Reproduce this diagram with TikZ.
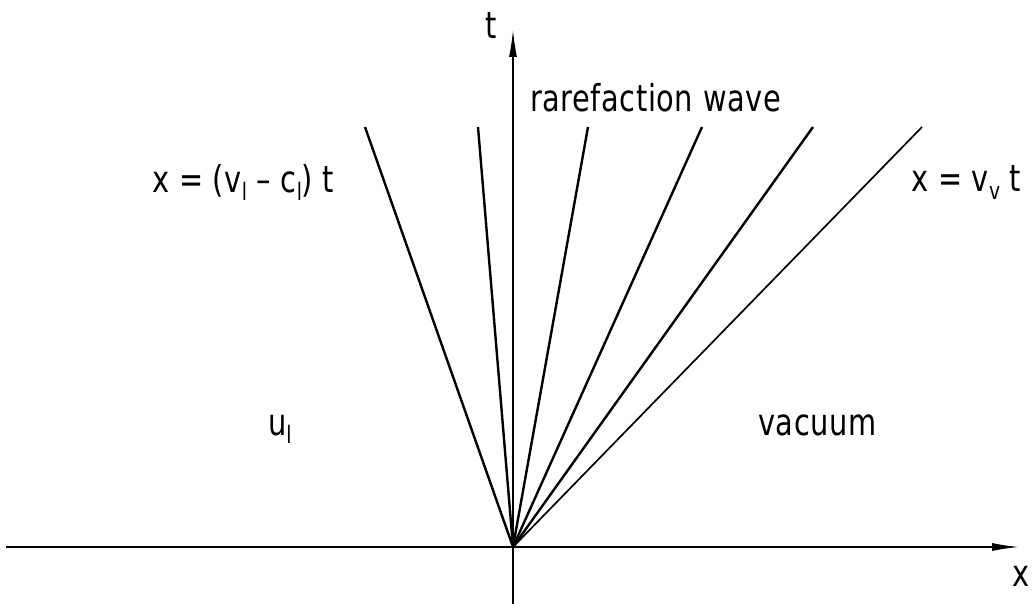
\documentclass[tikz,border=0pt]{standalone}
\usepackage{fontspec}
\setmainfont{DejaVu Sans}[FakeStretch=0.78,LetterSpace=1.5]
\usetikzlibrary{arrows.meta}
\newcommand\sbs[1]{\raisebox{-8pt}{\fontsize{24}{24}\selectfont #1}}
\tikzset{
  axisline/.style={line width=1.3pt,-{Latex[length=27pt,width=8pt]}},
  ray/.style={line width=2.4pt},
  lbl/.style={font=\fontsize{37}{40}\selectfont, inner sep=0pt}
}
\begin{document}
\begin{tikzpicture}[x=1pt,y=-1pt]
\useasboundingbox (0,0) rectangle (1033,604);
\coordinate (o) at (513,547);
\coordinate (xs) at (6,547);
\coordinate (xe) at (1019,547);
\coordinate (tb) at (513,604);
\coordinate (te) at (513,30);
\coordinate (r1) at (365,127);
\coordinate (r2) at (478,127);
\coordinate (r3) at (588,127);
\coordinate (r4) at (702,127);
\coordinate (r5) at (813,127);
\coordinate (r6) at (922,127);
\draw[axisline] (xs) -- (xe);
\draw[axisline] (tb) -- (te);
\foreach \r in {r1,r2,r3,r4,r5} \draw[ray] (o) -- (\r);
\draw[line width=1.7pt] (o) -- (r6);
\node[lbl,anchor=base] (tl) at (491,39) {t};
\node[lbl,anchor=base] (xl) at (1021,586) {x};
\node[lbl,anchor=base west] (rw) at (530,112) {rarefaction wave};
\node[lbl,anchor=base west] (left) at (152,193) {x = (v\sbs{l} – c\sbs{l}) t};
\node[lbl,anchor=base west] (right) at (911,192) {x = v\sbs{v} t};
\node[lbl,anchor=base west] (ul) at (268,435) {u\sbs{l}};
\node[lbl,anchor=base west] (vac) at (758,435) {vacuum};
\end{tikzpicture}
\end{document}
